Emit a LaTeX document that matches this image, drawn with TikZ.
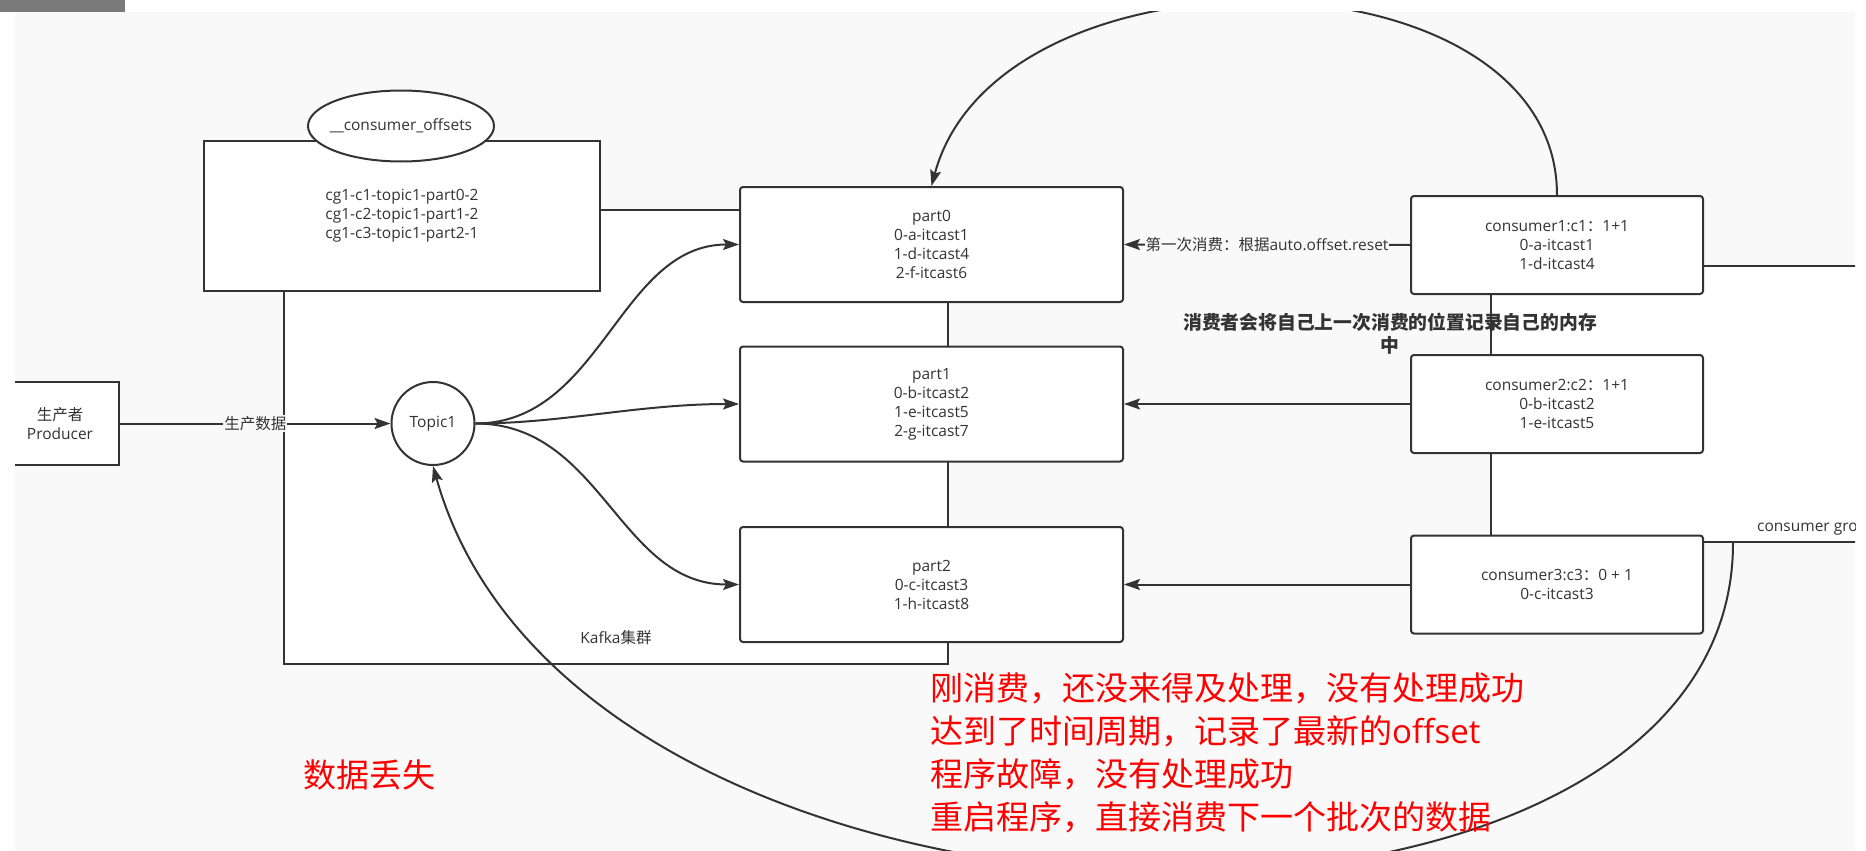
\documentclass[tikz,border=0pt]{standalone}
\usepackage{fontspec}
\setmainfont{Open Sans}
\newfontfamily\cjk{Noto Sans CJK SC}
\usetikzlibrary{arrows.meta,shapes.geometric}
\definecolor{bgcol}{RGB}{249,249,249}
\definecolor{linecol}{RGB}{51,51,51}
\definecolor{barcol}{RGB}{122,122,122}
\begin{document}
\begin{tikzpicture}[x=1pt, y=-1pt, >={Stealth[length=16pt,width=11pt,inset=3pt]},
		every node/.style={text=linecol, inner sep=0pt, font=\fontsize{15.5}{19}\selectfont},
		sq/.style={draw=linecol, line width=2pt, fill=white, align=center},
		rnd/.style={sq, rounded corners=3pt},
		conn/.style={draw=linecol, line width=2pt},
		partbox/.style={rnd, minimum width=383pt, minimum height=115pt},
		consbox/.style={rnd, minimum width=292pt, minimum height=98pt},
		rednote/.style={text=red, align=left, font=\cjk\fontsize{33}{43}\selectfont}]
				\useasboundingbox (0,0) rectangle (1866,851);
				\fill[barcol] (0,0) rectangle (125,12);
				\begin{scope}
				\clip (15,12) rectangle (1855,851);
				\fill[bgcol] (15,12) rectangle (1855,851);
				\node[sq, minimum width=664pt, minimum height=454pt] (kafka) at (616,437) {};
				\node at (616,638) (kafkalbl) {Kafka{\cjk 集群}};
				\node[sq, minimum width=638pt, minimum height=276pt] (cgroup) at (1810,404) {};
				\node[anchor=west] at (1757,529) (cgrouplbl) {consumer group};
				\node[sq, minimum width=396pt, minimum height=150pt] (offsets) at (402,216) {cg1-c1-topic1-part0-2\\cg1-c2-topic1-part1-2\\cg1-c3-topic1-part2-1};
				\node[sq, ellipse, inner xsep=-10pt, minimum width=186pt, minimum height=71pt] (offtopic) at (401,126) {\_\_consumer\_offsets};
				\node[sq, minimum width=118pt, minimum height=83pt] (producer) at (60,423.5) {{\cjk 生产者}\\Producer};
				\node[sq, circle, minimum size=83pt] (topic) at (433,423.5) {Topic1};
				\node[partbox] (part0) at (931.5,244.5) {part0\\0-a-itcast1\\1-d-itcast4\\2-f-itcast6};
				\node[partbox] (part1) at (931.5,404) {part1\\0-b-itcast2\\1-e-itcast5\\2-g-itcast7};
				\node[partbox] (part2) at (931.5,584.5) {part2\\0-c-itcast3\\1-h-itcast8};
				\node[consbox] (c1) at (1557,245) {consumer1:c1{\cjk ：}1+1\\0-a-itcast1\\1-d-itcast4};
				\node[consbox] (c2) at (1557,404) {consumer2:c2{\cjk ：}1+1\\0-b-itcast2\\1-e-itcast5};
				\node[consbox] (c3) at (1557,584.5) {consumer3:c3{\cjk ：}0 + 1\\0-c-itcast3};
				\node[align=center, font=\cjk\bfseries\fontsize{18.8}{23}\selectfont] (memnote) at (1390,333.5) {消费者会将自己上一次消费的位置记录自己的内存\\中};
				\draw[conn, ->] (producer.east) -- node[fill=bgcol, inner sep=1pt, font=\cjk\fontsize{15.5}{19}\selectfont] {生产数据} (topic.west);
				\draw[conn, ->] (topic.east) .. controls +(126,0) and +(-120,0) .. (part0.west);
				\draw[conn, ->] (topic.east) .. controls +(86,0) and +(-100,0) .. (part1.west);
				\draw[conn, ->] (topic.east) .. controls +(126,0) and +(-120,0) .. (part2.west);
				\draw[conn, ->] (c1.west) -- node[fill=bgcol, inner sep=1pt] {{\cjk 第一次消费：根据}auto.offset.reset} (part0.east);
				\draw[conn, ->] (c2.west) -- (part1.east);
				\draw[conn, ->] (c3.west) -- (part2.east);
				\draw[conn, ->] (c1.north) .. controls +(0,-250) and +(67,-250) .. (part0.north);
				\draw[conn, ->] ([xshift=243pt]cgroup.south west) .. controls +(0,458) and +(146,520) .. (topic.south);
				\node[rednote, anchor=west] (steps) at (930,753) {刚消费，还没来得及处理，没有处理成功\\达到了时间周期，记录了最新的{\fontspec{Open Sans}offset}\\程序故障，没有处理成功\\重启程序，直接消费下一个批次的数据};
				\node[rednote] (loss) at (369.5,775) {数据丢失};
				\end{scope}
			\end{tikzpicture}
\end{document}
